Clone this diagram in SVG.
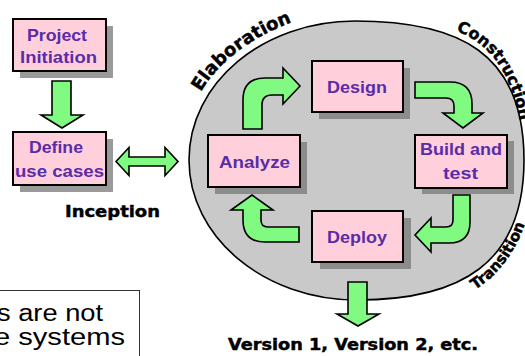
<svg xmlns="http://www.w3.org/2000/svg" width="525" height="356" viewBox="0 0 525 356">
  <style>
    .box { fill: #ffd0dc; stroke: #000; stroke-width: 2; }
    .shadow-out { fill: #9a9a9a; }
    .shadow-in { fill: #8c8c8c; }
    .lbl { font-family: "Liberation Sans", Arial, sans-serif; font-weight: bold; font-size: 17px; fill: #5a2ca8; text-anchor: middle; }
    .heavy { font-family: "DejaVu Sans", "Liberation Sans", sans-serif; font-weight: bold; fill: #000; stroke: #000; stroke-width: 0.45; }
    .arrow { fill: #80fa80; stroke: #000; stroke-width: 1.6; stroke-linejoin: miter; }
    .note { font-family: "Liberation Sans", Arial, sans-serif; font-size: 23px; fill: #000; text-anchor: end; }
  </style>
  <defs>
    <path id="arcElab" d="M201,92 Q228,45 300,19"/>
    <path id="arcConst" d="M456,31 Q509,50 521,128"/>
    <path id="arcTrans" d="M475,290 Q512,266 527,218"/>
  </defs>

  <!-- iteration cycle backdrop -->
  <path id="cycle" d="M189,160 C189,83 263,21 355,21 C458,21 524,52 524,160 C524,264 460,300 357,300 C264,300 189,237 189,160 Z" fill="#c9c9c9" stroke="#000" stroke-width="1.6"/>

  <!-- phase labels along the rim -->
  <text class="heavy" font-size="18"><textPath href="#arcElab">Elaboration</textPath></text>
  <text class="heavy" font-size="16"><textPath href="#arcConst">Construction</textPath></text>
  <text class="heavy" font-size="15"><textPath href="#arcTrans">Transition</textPath></text>

  <g id="project-initiation">
    <rect class="shadow-out" x="20" y="26" width="93" height="52"/>
    <rect class="box" x="13" y="19" width="93" height="52"/>
    <text class="lbl" x="57" y="41" textLength="60" lengthAdjust="spacingAndGlyphs">Project</text>
    <text class="lbl" x="58.5" y="63" textLength="77" lengthAdjust="spacingAndGlyphs">Initiation</text>
  </g>

  <g id="define-use-cases">
    <rect class="shadow-out" x="20" y="139" width="93" height="53"/>
    <rect class="box" x="13" y="132" width="93" height="53"/>
    <text class="lbl" x="56" y="153" textLength="54" lengthAdjust="spacingAndGlyphs">Define</text>
    <text class="lbl" x="59.5" y="177" textLength="89" lengthAdjust="spacingAndGlyphs">use cases</text>
  </g>

  <text id="inception" class="heavy" font-size="16" x="65" y="217" textLength="95" lengthAdjust="spacingAndGlyphs">Inception</text>

  <g id="design">
    <rect class="shadow-in" x="319" y="68" width="91" height="51"/>
    <rect class="box" x="312" y="61" width="91" height="51"/>
    <text class="lbl" x="357" y="93" textLength="60" lengthAdjust="spacingAndGlyphs">Design</text>
  </g>

  <g id="analyze">
    <rect class="shadow-in" x="215" y="142" width="92" height="52"/>
    <rect class="box" x="208" y="135" width="92" height="52"/>
    <text class="lbl" x="254.5" y="168" textLength="71" lengthAdjust="spacingAndGlyphs">Analyze</text>
  </g>

  <g id="build-and-test">
    <rect class="shadow-in" x="422" y="141" width="92" height="53"/>
    <rect class="box" x="415" y="135" width="92" height="53"/>
    <text class="lbl" x="461" y="155" textLength="82" lengthAdjust="spacingAndGlyphs">Build and</text>
    <text class="lbl" x="460.5" y="179" textLength="35" lengthAdjust="spacingAndGlyphs">test</text>
  </g>

  <g id="deploy">
    <rect class="shadow-in" x="320" y="218" width="91" height="51"/>
    <rect class="box" x="312" y="211" width="91" height="51"/>
    <text class="lbl" x="357" y="243" textLength="60" lengthAdjust="spacingAndGlyphs">Deploy</text>
  </g>

  <text id="versions" class="heavy" font-size="15" x="228" y="350" textLength="250" lengthAdjust="spacingAndGlyphs">Version 1, Version 2, etc.</text>

  <g id="connectors">
    <!-- initiation down to use cases -->
    <path class="arrow" d="M52,81 L71,81 L71,115 L83,115 L62,128 L41,115 L52,115 Z"/>
    <!-- use cases to and from the cycle -->
    <path class="arrow" d="M116,161.5 L129,147.5 L129,157 L165,157 L165,147.5 L178,161.5 L165,175.5 L165,166 L129,166 L129,175.5 Z"/>
    <!-- analyze to design -->
    <path class="arrow" d="M243,129 L243,100 Q243,78 265,78 L283,78 L283,68 L300,86 L283,104 L283,95 L272,95 Q262,95 262,105 L262,129 Z"/>
    <!-- design to build and test -->
    <path class="arrow" d="M415,82 L450,82 Q472,82 472,104 L472,113 L483,113 L463,128 L443,113 L454,113 L454,106 Q454,98 446,98 L415,98 Z"/>
    <!-- build and test to deploy -->
    <path class="arrow" d="M453,195 L470,195 L470,222 Q470,243 449,243 L431,243 L431,252 L415,235 L431,218 L431,227 L446,227 Q453,227 453,220 Z"/>
    <!-- deploy back to analyze -->
    <path class="arrow" d="M299,242 L265,242 Q243,242 243,220 L243,210 L231,210 L252,195 L273,210 L261,210 L261,220 Q261,227 268,227 L299,227 Z"/>
    <!-- release out of the cycle -->
    <path class="arrow" d="M348,282 L367,282 L367,314 L379,314 L358,326 L337,314 L348,314 Z"/>
  </g>

  <g id="note">
    <rect x="-5" y="290.5" width="144.5" height="80" fill="#fff" stroke="#333" stroke-width="1"/>
    <text class="note" x="103" y="321" textLength="106" lengthAdjust="spacingAndGlyphs">s are not</text>
    <text class="note" x="125" y="345" textLength="131" lengthAdjust="spacingAndGlyphs">e systems</text>
  </g>
</svg>
